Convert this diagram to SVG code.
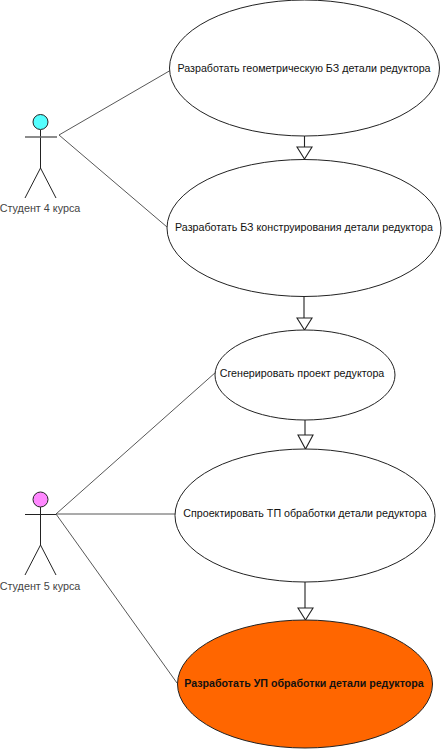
<svg xmlns="http://www.w3.org/2000/svg" width="442" height="749" viewBox="0 0 442 749">
<style>
text{font-family:"Liberation Sans",Arial,sans-serif;font-size:10.700px;fill:#111;text-anchor:middle}
.uc{fill:#fff;stroke:#222;stroke-width:1}
.l{fill:none;stroke:#444;stroke-width:.9}
.a{fill:none;stroke:#222;stroke-width:1.1}
.s{fill:none;stroke:#222;stroke-width:1}
.lab{fill:#444;font-size:10.800px}
</style>
<rect width="442" height="749" fill="#fff"/>
<g id="connectors">
<path class="l" d="M59 135L171 70"/>
<path class="l" d="M59 135L167 227"/>
<path class="l" d="M56 514L216 372"/>
<path class="l" d="M56 514L176 514"/>
<path class="l" d="M56 514L177 683"/>
<path class="a" d="M304.500 136V147M297 147H312L304.500 159Z"/>
<path class="a" d="M304 296V318M297 318H312L304.500 330Z"/>
<path class="a" d="M305 420V435M298 435H313L305.500 449Z"/>
<path class="a" d="M305 582V608M298 608H313L305.500 620Z"/>
</g>
<g id="uc1"><ellipse class="uc" cx="304.500" cy="68" rx="135" ry="68"/><text x="304" y="71.500">Разработать геометрическую БЗ детали редуктора</text></g>
<g id="uc2"><ellipse class="uc" cx="304" cy="228" rx="137" ry="68.500"/><text x="304" y="231">Разработать БЗ конструирования детали редуктора</text></g>
<g id="uc3"><ellipse class="uc" cx="305" cy="375" rx="90" ry="45"/><text x="302" y="377">Сгенерировать проект редуктора</text></g>
<g id="uc4"><ellipse class="uc" cx="305" cy="515.500" rx="130" ry="66.500"/><text x="305" y="517">Спроектировать ТП обработки детали редуктора</text></g>
<g id="uc5"><ellipse cx="305" cy="684" rx="127.500" ry="64" fill="#f60" stroke="#222"/><text x="304" y="687" style="font-weight:700;font-size:10.650px">Разработать УП обработки детали редуктора</text></g>
<g id="actor1">
<circle cx="40.500" cy="122" r="7.500" fill="#5ff" stroke="#222"/>
<path class="s" d="M40.500 130V168L25 198M40.500 168L56 198"/>
<path d="M25 137H57" stroke="#666" stroke-width="1.500"/>
<text class="lab" x="40" y="212">Студент 4 курса</text>
</g>
<g id="actor2">
<circle cx="40.500" cy="499.500" r="7.500" fill="#f8f" stroke="#222"/>
<path class="s" d="M40.500 507V545L25 575M40.500 545L56 575M25 514.500H56"/>
<text class="lab" x="40" y="590">Студент 5 курса</text>
</g>
</svg>
